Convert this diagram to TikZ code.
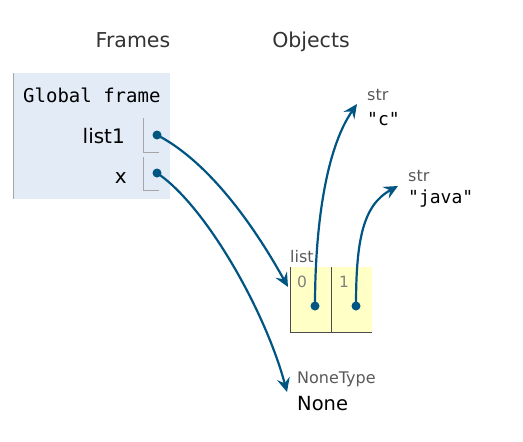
\documentclass[tikz,border=0pt]{standalone}
\usepackage{fontspec}
\setmainfont{DejaVu Sans}
\setmonofont{DejaVu Sans Mono}
\usetikzlibrary{arrows.meta}
\definecolor{ptrblue}{HTML}{005583}
\definecolor{framebg}{HTML}{E2EBF6}
\definecolor{listbg}{HTML}{FFFFC6}
\tikzset{
  ptr/.style={ptrblue,line width=2.2pt,-{Stealth[length=14pt,width=13pt,inset=5pt]}},
  typelbl/.style={anchor=base west,inner sep=0pt,text=black!65,font=\fontsize{16}{17}\selectfont},
  monoval/.style={anchor=base west,inner sep=0pt,font=\fontsize{18}{20}\ttfamily}
}
\begin{document}
\begin{tikzpicture}[x=1pt,y=-1pt]
			\useasboundingbox (0,0) rectangle (523,442);
			\node[inner sep=0pt,anchor=base,text=black!80,font=\fontsize{20.5}{22}\selectfont] (framesHead) at (133,47) {Frames};
			\node[inner sep=0pt,anchor=base,text=black!80,font=\fontsize{20.5}{22}\selectfont] (objHead) at (311,47) {Objects};

			% global frame
			\fill[framebg] (13,73) rectangle (170,199);
			\draw[black!35,line width=1pt] (13,73) -- (13,199);
			\node[inner sep=0pt,anchor=base west,font=\fontsize{19}{20}\ttfamily] (gframe) at (23,102) {Global frame};
			\node[inner sep=0pt,anchor=base east,font=\fontsize{20}{22}\selectfont] (nList) at (125,143) {list1};
			\node[inner sep=0pt,anchor=base east,font=\fontsize{20}{22}\selectfont] (nX) at (127,183) {x};
			\draw[black!35,line width=1pt] (143,118) -- (143,152) -- (159,152);
			\draw[black!35,line width=1pt] (143,157) -- (143,190) -- (159,190);
			\coordinate (dList) at (157,135);
			\coordinate (dX) at (157,173);
			\fill[ptrblue] (dList) circle (4.5pt);
			\fill[ptrblue] (dX) circle (4.5pt);

			% list object
			\node[typelbl] (lstLbl) at (290,262) {list};
			\fill[listbg] (290,267) rectangle (372,332);
			\draw[black!70,line width=1pt] (290,267) -- (290,332) -- (372,332);
			\draw[black!70,line width=1pt] (331,267) -- (331,332);
			\node[inner sep=0pt,anchor=base,text=black!50,font=\fontsize{15.5}{16}\selectfont] (idx0) at (302,287) {0};
			\node[inner sep=0pt,anchor=base,text=black!50,font=\fontsize{15.5}{16}\selectfont] (idx1) at (344,287) {1};
			\coordinate (d0) at (315,306);
			\coordinate (d1) at (356,306);
			\fill[ptrblue] (d0) circle (4.5pt);
			\fill[ptrblue] (d1) circle (4.5pt);
			\coordinate (lstIn) at (288,287);

			% strings
			\node[typelbl] (strC) at (367,100) {str};
			\node[monoval] (valC) at (367,125) {"c"};
			\node[typelbl] (strJ) at (408,181) {str};
			\node[monoval] (valJ) at (408,203) {"java"};
			\coordinate (cIn) at (357,104);
			\coordinate (jIn) at (398,186);

			% None
			\node[typelbl] (noneT) at (297,383) {NoneType};
			\node[inner sep=0pt,anchor=base west,font=\fontsize{19.5}{21}\selectfont] (noneV) at (297,410) {None};
			\coordinate (noneIn) at (287,392);

			\draw[ptr] (dList) .. controls (215,165) and (262,240) .. (lstIn);
			\draw[ptr] (dX) .. controls (205,205) and (265,310) .. (noneIn);
			\draw[ptr] (d0) .. controls (315,230) and (325,150) .. (cIn);
			\draw[ptr] (d1) .. controls (356,240) and (363,205) .. (jIn);
		\end{tikzpicture}
\end{document}
